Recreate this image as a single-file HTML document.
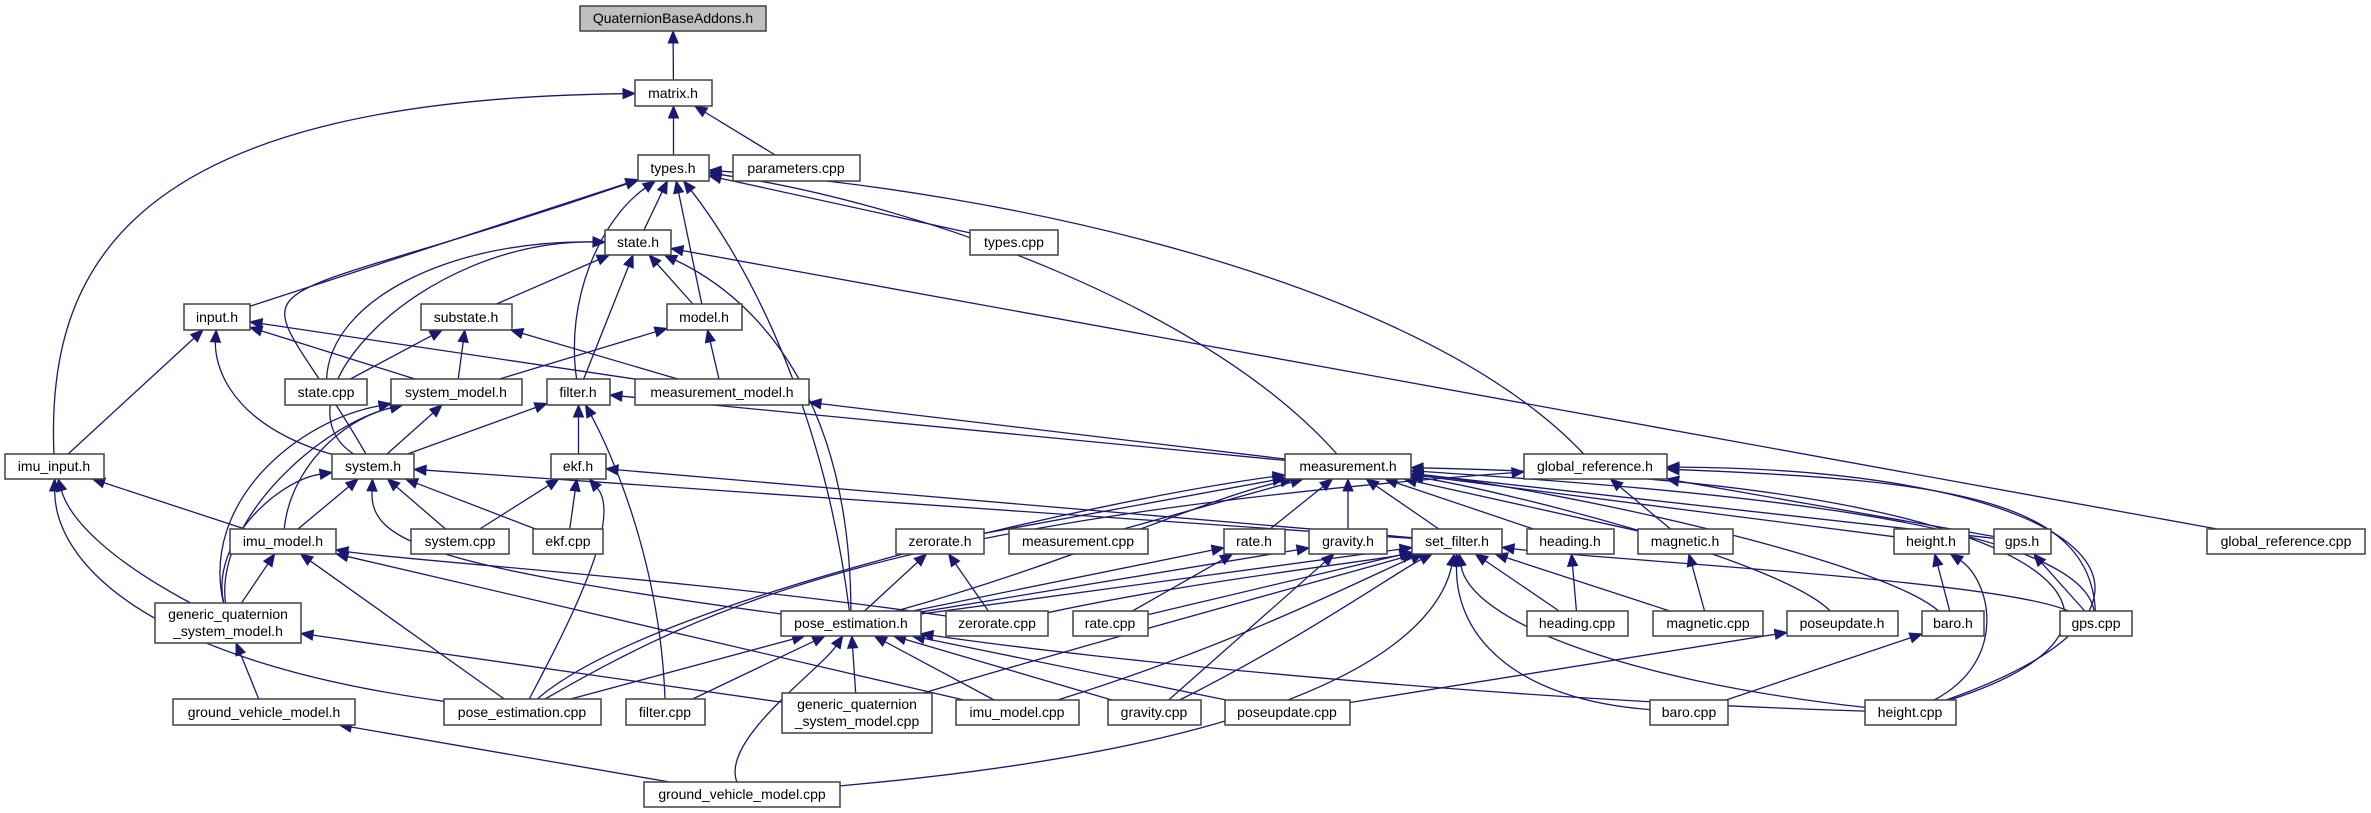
<!DOCTYPE html>
<html><head><meta charset="utf-8"><style>
html,body{margin:0;padding:0;background:#fff;}
svg{display:block;}
text{font-family:"Liberation Sans",sans-serif;font-size:14px;fill:#000;}
</style></head><body>
<svg id="g" width="2371" height="813" viewBox="0 0 2371 813" xmlns="http://www.w3.org/2000/svg">
<g id="edges"></g>
<g id="nodes" stroke="#404040" stroke-width="1.5">
<rect id="qba" x="580" y="6" width="186" height="25" fill="#bfbfbf"/>
<rect id="matrix" x="635" y="80" width="77" height="26" fill="#fff"/>
<rect id="types" x="638" y="155" width="71" height="26" fill="#fff"/>
<rect id="params" x="733" y="155" width="127" height="26" fill="#fff"/>
<rect id="state" x="605" y="230" width="66" height="25" fill="#fff"/>
<rect id="typescpp" x="970" y="230" width="88" height="25" fill="#fff"/>
<rect id="input" x="184" y="304" width="66" height="26" fill="#fff"/>
<rect id="substate" x="421" y="304" width="91" height="26" fill="#fff"/>
<rect id="model" x="667" y="304" width="75" height="26" fill="#fff"/>
<rect id="statecpp" x="285" y="379" width="82" height="26" fill="#fff"/>
<rect id="sysmodel" x="391" y="379" width="131" height="26" fill="#fff"/>
<rect id="filter" x="547" y="379" width="63" height="26" fill="#fff"/>
<rect id="measmodel" x="635" y="379" width="174" height="26" fill="#fff"/>
<rect id="imuinput" x="5" y="454" width="99" height="25" fill="#fff"/>
<rect id="system" x="332" y="454" width="82" height="25" fill="#fff"/>
<rect id="ekf" x="551" y="454" width="55" height="25" fill="#fff"/>
<rect id="measurement" x="1285" y="454" width="126" height="25" fill="#fff"/>
<rect id="globalref" x="1524" y="454" width="143" height="25" fill="#fff"/>
<rect id="imumodel" x="230" y="529" width="106" height="25" fill="#fff"/>
<rect id="systemcpp" x="411" y="529" width="98" height="25" fill="#fff"/>
<rect id="ekfcpp" x="533" y="529" width="70" height="25" fill="#fff"/>
<rect id="zerorate" x="896" y="529" width="88" height="25" fill="#fff"/>
<rect id="meascpp" x="1009" y="529" width="139" height="25" fill="#fff"/>
<rect id="rate" x="1224" y="529" width="61" height="25" fill="#fff"/>
<rect id="gravity" x="1309" y="529" width="78" height="25" fill="#fff"/>
<rect id="setfilter" x="1412" y="529" width="90" height="25" fill="#fff"/>
<rect id="heading" x="1527" y="529" width="87" height="25" fill="#fff"/>
<rect id="magnetic" x="1638" y="529" width="95" height="25" fill="#fff"/>
<rect id="height" x="1894" y="529" width="75" height="25" fill="#fff"/>
<rect id="gps" x="1994" y="529" width="57" height="25" fill="#fff"/>
<rect id="globalrefcpp" x="2207" y="529" width="158" height="25" fill="#fff"/>
<rect id="gqsm" x="155" y="603" width="146" height="40" fill="#fff"/>
<rect id="poseest" x="781" y="611" width="140" height="25" fill="#fff"/>
<rect id="zeroratecpp" x="946" y="611" width="102" height="25" fill="#fff"/>
<rect id="ratecpp" x="1073" y="611" width="75" height="25" fill="#fff"/>
<rect id="headingcpp" x="1527" y="611" width="101" height="25" fill="#fff"/>
<rect id="magneticcpp" x="1653" y="611" width="110" height="25" fill="#fff"/>
<rect id="poseupdate" x="1787" y="611" width="111" height="25" fill="#fff"/>
<rect id="baro" x="1922" y="611" width="62" height="25" fill="#fff"/>
<rect id="gpscpp" x="2060" y="611" width="72" height="25" fill="#fff"/>
<rect id="gvm" x="173" y="699" width="182" height="26" fill="#fff"/>
<rect id="posecpp" x="444" y="699" width="157" height="26" fill="#fff"/>
<rect id="filtercpp" x="626" y="699" width="79" height="26" fill="#fff"/>
<rect id="gqsmcpp" x="782" y="693" width="150" height="40" fill="#fff"/>
<rect id="imumodelcpp" x="956" y="700" width="123" height="25" fill="#fff"/>
<rect id="gravitycpp" x="1108" y="700" width="93" height="25" fill="#fff"/>
<rect id="poseupdatecpp" x="1225" y="700" width="125" height="25" fill="#fff"/>
<rect id="barocpp" x="1650" y="700" width="78" height="25" fill="#fff"/>
<rect id="heightcpp" x="1865" y="700" width="91" height="25" fill="#fff"/>
<rect id="gvmcpp" x="644" y="782" width="196" height="25" fill="#fff"/>
</g>
<g text-anchor="middle">
<text x="673" y="23">QuaternionBaseAddons.h</text>
<text x="673" y="98">matrix.h</text>
<text x="673" y="173">types.h</text>
<text x="796" y="173">parameters.cpp</text>
<text x="638" y="247">state.h</text>
<text x="1014" y="247">types.cpp</text>
<text x="217" y="322">input.h</text>
<text x="466" y="322">substate.h</text>
<text x="704" y="322">model.h</text>
<text x="326" y="397">state.cpp</text>
<text x="456" y="397">system_model.h</text>
<text x="578" y="397">filter.h</text>
<text x="722" y="397">measurement_model.h</text>
<text x="54" y="471">imu_input.h</text>
<text x="373" y="471">system.h</text>
<text x="578" y="471">ekf.h</text>
<text x="1348" y="471">measurement.h</text>
<text x="1595" y="471">global_reference.h</text>
<text x="283" y="546">imu_model.h</text>
<text x="460" y="546">system.cpp</text>
<text x="568" y="546">ekf.cpp</text>
<text x="940" y="546">zerorate.h</text>
<text x="1078" y="546">measurement.cpp</text>
<text x="1254" y="546">rate.h</text>
<text x="1348" y="546">gravity.h</text>
<text x="1457" y="546">set_filter.h</text>
<text x="1570" y="546">heading.h</text>
<text x="1685" y="546">magnetic.h</text>
<text x="1931" y="546">height.h</text>
<text x="2022" y="546">gps.h</text>
<text x="2286" y="546">global_reference.cpp</text>
<text x="228" y="619">generic_quaternion</text>
<text x="228" y="636">_system_model.h</text>
<text x="851" y="628">pose_estimation.h</text>
<text x="997" y="628">zerorate.cpp</text>
<text x="1110" y="628">rate.cpp</text>
<text x="1577" y="628">heading.cpp</text>
<text x="1708" y="628">magnetic.cpp</text>
<text x="1842" y="628">poseupdate.h</text>
<text x="1953" y="628">baro.h</text>
<text x="2096" y="628">gps.cpp</text>
<text x="264" y="717">ground_vehicle_model.h</text>
<text x="522" y="717">pose_estimation.cpp</text>
<text x="665" y="717">filter.cpp</text>
<text x="857" y="709">generic_quaternion</text>
<text x="857" y="726">_system_model.cpp</text>
<text x="1017" y="717">imu_model.cpp</text>
<text x="1154" y="717">gravity.cpp</text>
<text x="1287" y="717">poseupdate.cpp</text>
<text x="1689" y="717">baro.cpp</text>
<text x="1910" y="717">height.cpp</text>
<text x="742" y="799">ground_vehicle_model.cpp</text>
</g>
</svg>
<script>
(function(){
var E=[
["matrix","qba"],["types","matrix"],["params","matrix"],
["imuinput","matrix",[45,250,150,100]],
["state","types"],["input","types"],
["system","types",[250,250,200,330]],
["filter","types",[565,300,600,220]],
["model","types"],
["poseest","types",[820,380,730,240]],
["measurement","types",[1200,300,900,200]],
["globalref","types",[1420,280,1000,190]],
["typescpp","types"],
["substate","state"],["statecpp","state",[330,300,450,240]],
["system","state",[270,400,420,240]],["model","state"],["filter","state"],
["poseest","state",[850,400,760,300]],["globalrefcpp","state"],
["imuinput","input"],["system","input",[215,420,215,350]],["sysmodel","input"],["measmodel","input"],
["statecpp","substate"],["sysmodel","substate"],["measmodel","substate"],
["sysmodel","model"],["measmodel","model"],
["system","sysmodel"],["imumodel","sysmodel",[290,470,340,420]],
["gqsm","sysmodel",[200,500,300,420]],["gqsm","sysmodel",[215,520,320,425]],
["system","filter"],["ekf","filter"],["filtercpp","filter",[660,560,610,450]],["measurement","filter"],
["measurement","measmodel"],
["imumodel","system"],["systemcpp","system"],["ekfcpp","system"],
["gqsm","system",[210,540,280,480]],
["poseest","system",[420,565,370,540]],
["setfilter","system"],
["systemcpp","ekf"],["ekfcpp","ekf"],["posecpp","ekf",[560,640,625,520]],["setfilter","ekf"],
["imumodel","imuinput"],["gqsm","imuinput",[110,560,70,520]],["posecpp","imuinput",[140,660,55,560]],
["gqsm","imumodel"],["posecpp","imumodel"],["zeroratecpp","imumodel",[700,580,400,560]],["imumodelcpp","imumodel"],
["gvm","gqsm"],["gqsmcpp","gqsm"],
["gvmcpp","gvm"],
["posecpp","poseest"],["gqsmcpp","poseest"],["imumodelcpp","poseest"],["gravitycpp","poseest"],
["poseupdatecpp","poseest"],["filtercpp","poseest"],["gvmcpp","poseest",[720,740,820,670]],
["heightcpp","poseest",[1500,700,1100,660]],
["zerorate","measurement"],["meascpp","measurement"],["rate","measurement"],["gravity","measurement"],
["setfilter","measurement"],["heading","measurement"],["magnetic","measurement"],
["poseupdate","measurement",[1780,560,1500,490]],["baro","measurement",[1880,560,1560,490]],
["height","measurement"],["gps","measurement"],["gpscpp","measurement",[2080,520,1700,490]],
["heightcpp","measurement",[2200,620,2050,480]],
["poseest","measurement",[1080,560,1200,500]],
["posecpp","measurement",[650,600,1100,500]],
["posecpp","globalref",[700,610,880,520]],
["magnetic","globalref"],["gps","globalref"],["gpscpp","globalref",[2090,500,1950,480]],
["heightcpp","globalref",[2230,600,2090,470]],
["poseest","zerorate"],["zeroratecpp","zerorate"],
["poseest","rate"],["ratecpp","rate"],
["poseest","gravity"],["gravitycpp","gravity"],
["poseest","setfilter"],["zeroratecpp","setfilter",[1200,580,1380,560]],["ratecpp","setfilter"],
["gqsmcpp","setfilter",[1100,640,1360,570]],["imumodelcpp","setfilter",[1250,640,1380,570]],
["gravitycpp","setfilter",[1300,640,1400,570]],["headingcpp","setfilter"],["magneticcpp","setfilter"],
["barocpp","setfilter",[1520,700,1455,640]],["heightcpp","setfilter",[1620,680,1470,620]],
["gvmcpp","setfilter",[1360,740,1440,620]],["gpscpp","setfilter",[2000,580,1600,560]],
["headingcpp","heading"],["magneticcpp","magnetic"],["poseupdatecpp","poseupdate"],
["barocpp","baro"],["baro","height"],["heightcpp","height",[2010,660,1990,580]],["gpscpp","gps"]
];
function box(id){var r=document.getElementById(id);var x=+r.getAttribute("x"),y=+r.getAttribute("y"),w=+r.getAttribute("width"),h=+r.getAttribute("height");return {cx:x+w/2,cy:y+h/2,hw:w/2,hh:h/2};}
function clip(b,px,py){var dx=px-b.cx,dy=py-b.cy;var t=Infinity;if(Math.abs(dx)>1e-6)t=Math.min(t,b.hw/Math.abs(dx));if(Math.abs(dy)>1e-6)t=Math.min(t,b.hh/Math.abs(dy));if(t>1)t=1;return [b.cx+dx*t,b.cy+dy*t];}
var out="";
E.forEach(function(e){
 var a=box(e[0]),b=box(e[1]);var c=e[2];var s,t,dir;
 if(c){s=clip(a,c[0],c[1]);t=clip(b,c[2],c[3]);dir=[t[0]-c[2],t[1]-c[3]];}
 else{s=clip(a,b.cx,b.cy);t=clip(b,a.cx,a.cy);dir=[t[0]-s[0],t[1]-s[1]];}
 var L=Math.sqrt(dir[0]*dir[0]+dir[1]*dir[1])||1;var ux=dir[0]/L,uy=dir[1]/L;
 var bx=t[0]-ux*12,by=t[1]-uy*12;
 var d=c?("M"+s[0]+","+s[1]+" C"+c[0]+","+c[1]+" "+c[2]+","+c[3]+" "+bx+","+by):("M"+s[0]+","+s[1]+" L"+bx+","+by);
 out+='<path d="'+d+'" fill="none" stroke="#191970" stroke-width="1.3"/>';
 out+='<polygon points="'+t[0]+','+t[1]+' '+(bx-uy*5)+','+(by+ux*5)+' '+(bx+uy*5)+','+(by-ux*5)+'" fill="#191970" stroke="#191970" stroke-width="1"/>';
});
document.getElementById("edges").innerHTML=out;
})();
</script>
</body></html>
